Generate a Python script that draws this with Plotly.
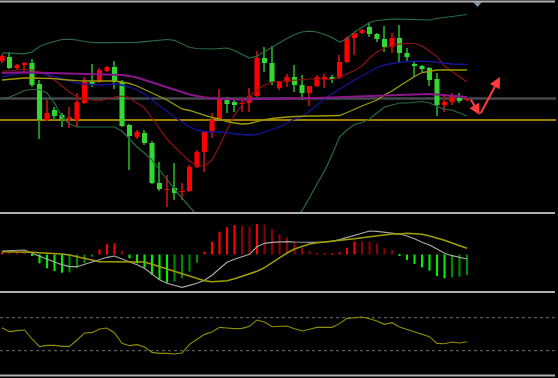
import plotly.graph_objects as go

W, H = 558, 378

# ---------------- price candles ----------------
opens = [159,163,152,155,157,136,100,110,105,101, 100,117,138,138,149,153,138,95,83,87,
         77,37,30,32,28,29,53,68,88,101, 122,118,116,117,124,162,157,132,138,143,
         135,127,134,141,143,142,158,182,187,193, 186,181,173,182,167,156,154,152,141,115,
         118,122,120]
closes = [164,152,155,157,135,100,107,104,101,103, 118,138,135,150,153,138,94,84,88,77,
          37,31,31,27,29,53,68,88,100,122, 116,115,117,124,162,157,138,138,143,135,
          127,134,143,143,141,158,182,187,190,186, 181,173,182,167,163,154,151,140,115,118,
          124,119,121]
highs = [166,168,156,158,161,140,120,113,107,113, 127,143,156,152,154,159,140,96,90,90,
         79,58,45,57,37,55,70,89,107,131, 123,120,122,132,169,173,174,139,146,155,
         145,134,145,146,145,165,184,188,191,197, 187,194,187,195,172,158,155,153,147,125,
         127,127,122]
lows = [157,151,150,148,133,81,99,100,93,92, 93,116,133,137,148,131,93,50,81,75,
        36,29,13,20,20,28,52,48,82,100, 107,108,108,108,123,148,135,130,133,128,
        120,114,133,132,137,141,157,165,186,183, 178,168,167,157,158,143,148,134,104,108,
        115,117,119]

# ---------------- overlays on price ----------------
boll_upper = [167.2,166.8,166.5,166.2,168,173.5,176.5,178.8,180.5,180.7, 180,178.5,177.5,177.3,177.3,177.3,177.3,177.3,177.7,178.3,
              179,179.7,180.5,179.7,176,172.5,171.5,171,171,171.5, 172,169.5,166,162,164,168.5,173,177,181.5,185.5,
              188,188.8,188,185.5,182.5,178,181,188,193,197.5, 199.5,200.3,200.9,200.8,200.5,200.2,200,200,201.5,202.7,
              203.5,204.5,205.5]
boll_lower = [121.2,123,126,129.5,130.5,130.5,127,117,103,96, 93,93,93,93,93,93,89,80.5,73,67,
              60,50,40,31,22,13,4,-4,-10,-15, -18,-20,-21,-20,-18,-16,-13,-9,-4,2,
              9,23,36,49,65,83,90,95.5,97.5,101, 107,113,115,117,117,117.5,118.5,117,114,110.5,
              110,107,104]
ma_darkred = [149,149,150,151,150,148,145,140,134,128, 123,121,120,119,121,123,124,122,117,112,
              102,91,81,73,66,59,54,54,60,74, 90,105,115,124,130,135,138,138.7,139.5,140.2,
              141,141,141,141,140.5,143,146,149.5,154,162, 168,172,174,176,176.7,176.5,174,169,163.5,154,
              148.5,143,138]
ma_blue = [143.4,145,146,147.5,147.7,147.2,145.5,143.5,141.5,139, 137,136,135.2,135,135.5,136,135,133,130,126,
           120,114,109,103,98,93,90,88.5,88,88, 87,86,85.5,85,85.5,88,90.5,93,97,101,
           103,109,115.5,121,126,131,135.5,140,144,148, 152.5,155,156.7,157.8,158.5,159,159,158.5,158,157,
           156,155.7,155.5]
ma_olive = [140,140.7,141.3,142,142,142,142,141.3,140.5,139.7, 139.3,139,139,139,139,139,138,136.5,134,130.5,
            127.5,123.5,120,115.5,111,109.5,107,105,102.5,101, 98.5,97,96,96.5,98.5,100.3,101.5,102.5,103,103.5,
            104,104,104,104,104,104.5,107.5,111,114,117, 120,125,129,134,139,143.5,147.5,149,150,150,
            150,150,150]
ma_purple = [147,147.5,147.8,147.8,147.5,147.3,147,146.8,146.6,146.4, 146.2,146,146,146,145.8,145.5,145,144,142.5,140,
             137.5,135,132.5,130,128,125.5,124,122.5,121.8,121.2, 120.8,120.5,120.5,120.7,120.8,121,121.5,121.8,122,122,
             122,122,122,122.2,122.5,122.8,123,123.3,123.5,123.8, 124,124.5,124.8,125,125.3,125.7,126,126,125.5,125,
             124.5,123.8,123]
level_grey = 121.5
level_gold = 100.0

# projection arrow (index, price)
arrow_x = [62.4, 63.7, 66.4]
arrow_y = [122, 105, 143]

# ---------------- MACD ----------------
macd_dif = [3.5,3.8,4.2,4.5,1.3,-1.8,-5.2,-7.5,-10.2,-12.2, -12.2,-10.2,-7.5,-5.2,-2.8,-1.5,-4.2,-7.2,-10.2,-13.8,
            -19.5,-25.2,-28.8,-30.8,-32.8,-30.8,-28.8,-25.8,-20.8,-14.2, -7.8,-4.8,-2.5,0.2,7.8,11.2,12.2,12.8,12.8,12.5,
            12.2,12.2,12.2,12.5,13.2,14.8,16.8,19.2,21.2,23.5, 23.2,22.5,21.8,20.5,18.5,15.8,12.2,9.5,5.5,1.2,
            -1.2,-3.2,-4.5]
macd_dea = [2.8,2.8,2.5,2.5,2.2,1.8,1.5,1.2,0.5,-0.5, -2.2,-4.2,-6.2,-7.2,-7.2,-7.2,-6.8,-6.8,-6.8,-7.5,
            -9.8,-12.2,-14.5,-17.2,-19.2,-21.8,-23.8,-26.2,-27.2,-26.8, -26.2,-24.2,-21.8,-19.2,-16.8,-13.2,-8.2,-3.2,1.5,5.5,
            8.2,10.5,11.8,12.5,13.2,13.8,14.5,15.8,16.8,17.8, 19.2,20.2,20.5,20.5,21.2,20.8,20.2,18.5,16.5,14.2,
            11.5,8.8,6.2]
macd_hist = [2.8,2.8,2.8,2.8,-1.5,-8.8,-13.8,-16.5,-18.2,-18.0, -13.8,-8.8,-2.2,5.2,10.2,11.2,3.8,-3.8,-8.8,-13.2,
             -20.5,-25.5,-28.2,-27.2,-23.8,-17.2,-8.2,2.8,12.8,22.8, 27.2,29.5,28.5,27.2,30.5,30.2,25.2,20.5,17.2,12.8,
             6.8,3.8,1.8,1.2,0.8,2.2,6.8,12.9,12.8,12.8, 11.2,6.8,4.5,-1.5,-5.5,-9.5,-12.8,-16.2,-21.5,-23.8,
             -22.8,-22.2,-20.5]

# ---------------- RSI ----------------
rsi = [57.9,53.1,54.3,55.1,44.2,34.9,36.5,36.5,35.3,35.3, 43.0,51.5,51.9,56.3,57.5,51.5,38.9,36.1,37.3,34.5,
       28.0,26.8,26.8,26.0,27.2,37.7,43.8,49.8,52.7,58.3, 57.5,56.7,57.1,59.5,67.2,64.8,59.1,59.1,59.9,56.7,
       53.9,55.9,58.3,58.3,58.3,62.8,69.2,70.0,70.9,68.8, 66.0,62.0,64.0,58.7,55.9,53.1,50.6,47.0,38.9,38.5,
       40.5,39.3,40.9]
rsi_levels = [70, 30]

n = len(opens)
xs = list(range(n))

# ---------------- colours ----------------
UP_BODY, DN_BODY = "#FF0000", "#33D633"
UP_WICK, DN_WICK = "#A01010", "#1E8C1E"

fig = go.Figure()

up = [c > o for o, c in zip(opens, closes)]
# wicks
fig.add_trace(go.Bar(x=xs, base=lows, y=[h - l for h, l in zip(highs, lows)], width=0.15,
                     marker=dict(color=[UP_WICK if u else DN_WICK for u in up], line=dict(width=0)),
                     yaxis="y", hoverinfo="skip"))
# bodies
fig.add_trace(go.Bar(x=xs, base=[min(o, c) for o, c in zip(opens, closes)],
                     y=[max(abs(c - o), 1) for o, c in zip(opens, closes)], width=0.68,
                     marker=dict(color=[UP_BODY if u else DN_BODY for u in up], line=dict(width=0)),
                     yaxis="y", hoverinfo="skip"))

def line(vals, color, width, yaxis="y"):
    fig.add_trace(go.Scatter(x=xs, y=vals, mode="lines", yaxis=yaxis,
                             line=dict(color=color, width=width), hoverinfo="skip"))

line(boll_upper, "#2A6A46", 1.2)
line(boll_lower, "#2A6A46", 1.2)
line(ma_darkred, "#8E1212", 1.2)
line(ma_blue, "#14149A", 1.3)
line(ma_olive, "#9C9C00", 1.3)
line(ma_purple, "#8A168A", 2)

# MACD histogram
hist_cols = []
for i, h in enumerate(macd_hist):
    prev = macd_hist[i - 1] if i > 0 else 0
    if h >= 0:
        hist_cols.append("#FF0000" if h > prev else "#8E0000")
    else:
        hist_cols.append("#00F000" if h < prev else "#008A00")
fig.add_trace(go.Bar(x=xs, y=macd_hist, width=0.28, yaxis="y2",
                     marker=dict(color=hist_cols, line=dict(width=0)), hoverinfo="skip"))
line(macd_dif, "#A8A8A8", 1.2, "y2")
line(macd_dea, "#A0A000", 1.5, "y2")

# RSI
line(rsi, "#8F8F00", 1.1, "y3")

# ---------------- layout ----------------
def py(px):
    return 1 - px / H

shapes = []
for ypx in [1.5, 213, 292, 375.5]:
    shapes.append(dict(type="line", xref="paper", yref="paper", x0=0, x1=555 / W,
                       y0=py(ypx), y1=py(ypx), line=dict(color="#B0B0B0", width=2)))
shapes.append(dict(type="line", xref="paper", yref="y", x0=0, x1=556 / W, y0=level_grey, y1=level_grey,
                   line=dict(color="#45484F", width=2.5), layer="below"))
shapes.append(dict(type="line", xref="paper", yref="y", x0=0, x1=556 / W, y0=level_gold, y1=level_gold,
                   line=dict(color="#D8A800", width=1.6), layer="below"))
for lv in rsi_levels:
    shapes.append(dict(type="line", xref="paper", yref="y3", x0=0, x1=556 / W, y0=lv, y1=lv,
                       line=dict(color="#6E6E6E", width=1, dash="dot"), layer="below"))
# small scroll marker at the top
shapes.append(dict(type="path", xref="paper", yref="paper",
                   path=f"M {473/W},{py(2)} L {482/W},{py(2)} L {477.5/W},{py(7)} Z",
                   fillcolor="#8593A8", line=dict(width=0)))

annotations = []
for k in range(len(arrow_x) - 1):
    annotations.append(dict(x=arrow_x[k + 1], y=arrow_y[k + 1], ax=arrow_x[k], ay=arrow_y[k],
                            xref="x", yref="y", axref="x", ayref="y", text="", showarrow=True,
                            arrowhead=2, arrowsize=1.1, arrowwidth=2, arrowcolor="#FF3B3B"))

xr = [-2 / 7.5, 556 / 7.5]
fig.update_layout(
    width=W, height=H, margin=dict(l=0, r=0, t=0, b=0),
    paper_bgcolor="black", plot_bgcolor="black",
    showlegend=False, barmode="overlay",
    xaxis=dict(range=xr, visible=False, fixedrange=True),
    yaxis=dict(domain=[py(213), 1], range=[7, 220], visible=False, fixedrange=True),
    yaxis2=dict(domain=[py(292), py(213)], range=[-37.5, 41.5], visible=False, fixedrange=True),
    yaxis3=dict(domain=[0, py(292)], range=[-3.09, 101.15], visible=False, fixedrange=True),
    shapes=shapes, annotations=annotations,
)

fig.write_html("out.html", config={"displayModeBar": False},
               post_script="document.body.style.margin='0';document.body.style.background='black';"
                           "document.documentElement.style.overflow='hidden';")
